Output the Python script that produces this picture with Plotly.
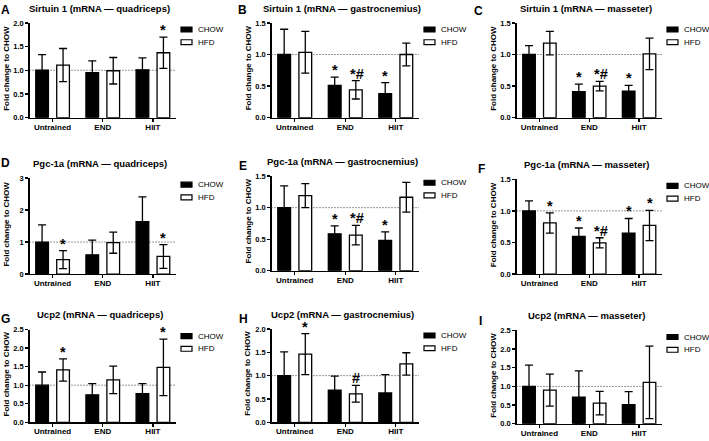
import plotly.graph_objects as go

W, H = 709, 441
FONT = "Liberation Sans, Arial, sans-serif"

categories = ["Untrained", "END", "HIIT"]
series_names = ["CHOW", "HFD"]
panel_letters = ["A", "B", "C", "D", "E", "F", "G", "H", "I"]
panel_titles = [
    "Sirtuin 1 (mRNA — quadriceps)", "Sirtuin 1 (mRNA — gastrocnemius)", "Sirtuin 1 (mRNA — masseter)",
    "Pgc-1a (mRNA — quadriceps)", "Pgc-1a (mRNA — gastrocnemius)", "Pgc-1a (mRNA — masseter)",
    "Ucp2 (mRNA — quadriceps)", "Ucp2 (mRNA — gastrocnemius)", "Ucp2 (mRNA — masseter)",
]
y_axis_title = "Fold change to CHOW"

# ---- data (mean, SD) per panel ----
A_chow = [1.00, 0.95, 1.01]; A_chow_err = [0.33, 0.25, 0.25]
A_hfd = [1.11, 0.99, 1.37];  A_hfd_err = [0.35, 0.28, 0.33]
A_chow_sig = ["", "", ""];   A_hfd_sig = ["", "", "*"]

B_chow = [1.00, 0.51, 0.38]; B_chow_err = [0.40, 0.13, 0.175]
B_hfd = [1.035, 0.44, 1.00]; B_hfd_err = [0.33, 0.145, 0.18]
B_chow_sig = ["", "*", "*"]; B_hfd_sig = ["", "*#", ""]

C_chow = [1.00, 0.41, 0.42]; C_chow_err = [0.14, 0.12, 0.09]
C_hfd = [1.18, 0.50, 1.01];  C_hfd_err = [0.185, 0.075, 0.25]
C_chow_sig = ["", "*", "*"]; C_hfd_sig = ["", "*#", ""]

D_chow = [1.00, 0.60, 1.64]; D_chow_err = [0.54, 0.46, 0.77]
D_hfd = [0.45, 0.98, 0.55];  D_hfd_err = [0.28, 0.33, 0.37]
D_chow_sig = ["", "", ""];   D_hfd_sig = ["*", "", "*"]

E_chow = [1.00, 0.585, 0.48]; E_chow_err = [0.345, 0.125, 0.135]
E_hfd = [1.19, 0.565, 1.165]; E_hfd_err = [0.19, 0.155, 0.235]
E_chow_sig = ["", "*", "*"];  E_hfd_sig = ["", "*#", ""]

F_chow = [1.00, 0.595, 0.65]; F_chow_err = [0.16, 0.135, 0.23]
F_hfd = [0.81, 0.495, 0.77];  F_hfd_err = [0.16, 0.08, 0.24]
F_chow_sig = ["", "*", "*"];  F_hfd_sig = ["*", "*#", "*"]

G_chow = [1.00, 0.74, 0.77]; G_chow_err = [0.355, 0.30, 0.27]
G_hfd = [1.41, 1.145, 1.48]; G_hfd_err = [0.30, 0.37, 0.76]
G_chow_sig = ["", "", ""];   G_hfd_sig = ["*", "", "*"]

H_chow = [1.00, 0.69, 0.63]; H_chow_err = [0.51, 0.30, 0.39]
H_hfd = [1.46, 0.61, 1.25];  H_hfd_err = [0.44, 0.18, 0.24]
H_chow_sig = ["", "", ""];   H_hfd_sig = ["*", "#", ""]

I_chow = [1.00, 0.71, 0.51]; I_chow_err = [0.57, 0.71, 0.35]
I_hfd = [0.90, 0.555, 1.11]; I_hfd_err = [0.43, 0.315, 0.97]
I_chow_sig = ["", "", ""];   I_hfd_sig = ["", "", ""]

y_max = [2.0, 1.5, 1.5, 3.0, 1.5, 1.5, 2.5, 2.0, 2.5]
y_dtick = [0.5, 0.5, 0.5, 1, 0.5, 0.5, 0.5, 0.5, 0.5]
y_fmt = [".1f", ".1f", ".1f", "d", ".1f", ".1f", ".1f", ".1f", ".1f"]

panels = [
    (A_chow, A_chow_err, A_hfd, A_hfd_err, A_chow_sig, A_hfd_sig),
    (B_chow, B_chow_err, B_hfd, B_hfd_err, B_chow_sig, B_hfd_sig),
    (C_chow, C_chow_err, C_hfd, C_hfd_err, C_chow_sig, C_hfd_sig),
    (D_chow, D_chow_err, D_hfd, D_hfd_err, D_chow_sig, D_hfd_sig),
    (E_chow, E_chow_err, E_hfd, E_hfd_err, E_chow_sig, E_hfd_sig),
    (F_chow, F_chow_err, F_hfd, F_hfd_err, F_chow_sig, F_hfd_sig),
    (G_chow, G_chow_err, G_hfd, G_hfd_err, G_chow_sig, G_hfd_sig),
    (H_chow, H_chow_err, H_hfd, H_hfd_err, H_chow_sig, H_hfd_sig),
    (I_chow, I_chow_err, I_hfd, I_hfd_err, I_chow_sig, I_hfd_sig),
]

# ---- layout geometry (pixels) ----
cols_px = [(29.5, 176.0), (271.5, 419.0), (516.5, 662.0)]
rows_px = [
    [(19.3, 116.0), (19.3, 116.0), (19.3, 116.0)],
    [(177.7, 275.7), (175.7, 272.3), (179.0, 275.7)],
    [(332.3, 427.0), (331.7, 427.0), (333.3, 428.5)],
]
letter_px = [(5, 6), (242.5, 6), (478.5, 7), (5, 162), (242.5, 165), (481.5, 168),
             (5, 322), (243.5, 322), (480.5, 323.5)]
ytitle_x_px = [6.5, 248, 493.5]


def px(xp):
    return xp / W


def py(yp):
    return 1 - yp / H


fig = go.Figure()
annotations = []
shapes = []
layout_axes = {}
slot_px = 10.5

for i, (chow, chow_err, hfd, hfd_err, chow_sig, hfd_sig) in enumerate(panels):
    r, c = divmod(i, 3)
    n = "" if i == 0 else str(i + 1)
    xref, yref = "x" + n, "y" + n
    x0, x1 = cols_px[c]
    ytop, ybot = rows_px[r][c]

    fig.add_trace(go.Bar(
        x=categories, y=chow, name=series_names[0], xaxis=xref, yaxis=yref,
        marker=dict(color="black", line=dict(color="black", width=1.3)),
        error_y=dict(type="data", array=chow_err, visible=True, color="black", thickness=1.3, width=4),
        showlegend=False,
    ))
    fig.add_trace(go.Bar(
        x=categories, y=hfd, name=series_names[1], xaxis=xref, yaxis=yref,
        marker=dict(color="white", line=dict(color="black", width=1.3)),
        error_y=dict(type="data", array=hfd_err, visible=True, color="black", thickness=1.3, width=4),
        showlegend=False,
    ))

    layout_axes["xaxis" + n] = dict(
        domain=[px(x0), px(x1)], anchor=yref, type="category", range=[-0.46, 2.46],
        showline=True, linecolor="black", linewidth=1.3, ticks="outside", ticklen=3,
        tickwidth=1.3, tickcolor="black", showgrid=False, zeroline=False,
        ticklabelstandoff=-2,
        tickfont=dict(family=FONT, size=8, color="black", weight="bold"), fixedrange=True,
    )
    layout_axes["yaxis" + n] = dict(
        domain=[py(ybot), py(ytop)], anchor=xref, range=[0, y_max[i]], dtick=y_dtick[i],
        tickformat=y_fmt[i], showline=True, linecolor="black", linewidth=1.3,
        ticks="outside", ticklen=3, tickwidth=1.3, tickcolor="black", showgrid=False,
        zeroline=False, tickfont=dict(family=FONT, size=7.5, color="black", weight="bold"),
        fixedrange=True,
    )

    # reference line at 1.0
    shapes.append(dict(type="line", xref=xref + " domain", yref=yref, x0=0, x1=1, y0=1, y1=1,
                       line=dict(color="#333", width=1, dash="1px,2px"), layer="below"))

    # significance markers
    for j in range(3):
        for vals, errs, sig, sh in ((chow, chow_err, chow_sig, -slot_px), (hfd, hfd_err, hfd_sig, slot_px)):
            if sig[j]:
                annotations.append(dict(
                    x=categories[j], y=vals[j] + errs[j], xref=xref, yref=yref,
                    text="<b>" + sig[j] + "</b>", showarrow=False, xshift=sh + (1 if len(sig[j]) > 1 else 0),
                    yanchor="bottom", yshift=-3,
                    font=dict(family=FONT, size=14.5, color="black"),
                ))

    # panel title
    annotations.append(dict(
        x=px((x0 + x1) / 2 - 3), y=py(ytop - 15), xref="paper", yref="paper",
        text="<b>" + panel_titles[i] + "</b>", showarrow=False, xanchor="center", yanchor="middle",
        font=dict(family=FONT, size=9.5, color="black"),
    ))
    # panel letter
    lx, ly = letter_px[i]
    annotations.append(dict(
        x=px(lx), y=py(ly), xref="paper", yref="paper", text="<b>" + panel_letters[i] + "</b>",
        showarrow=False, xanchor="center", yanchor="middle",
        font=dict(family=FONT, size=12, color="black"),
    ))
    # y-axis title
    annotations.append(dict(
        x=px(ytitle_x_px[c]), y=py((ytop + ybot) / 2 - 2), xref="paper", yref="paper",
        text="<b>" + y_axis_title + "</b>", showarrow=False, textangle=-90,
        xanchor="center", yanchor="middle", font=dict(family=FONT, size=8, color="black"),
    ))
    # legend (per panel)
    for k, (fillc, name) in enumerate((("black", series_names[0]), ("white", series_names[1]))):
        cy = ytop + 6.7 + 13 * k
        shapes.append(dict(type="rect", xref="paper", yref="paper",
                           x0=px(x1 + 5), x1=px(x1 + 16), y0=py(cy + 2.5), y1=py(cy - 2.5),
                           fillcolor=fillc, line=dict(color="black", width=1.2)))
        annotations.append(dict(
            x=px(x1 + 20), y=py(cy), xref="paper", yref="paper", text=name, showarrow=False,
            xanchor="left", yanchor="middle", font=dict(family=FONT, size=8, color="black"),
        ))

fig.update_layout(
    width=W, height=H, margin=dict(l=0, r=0, t=0, b=0),
    paper_bgcolor="white", plot_bgcolor="white",
    barmode="group", bargap=0.164, bargroupgap=0.395,
    showlegend=False, annotations=annotations, shapes=shapes,
    font=dict(family=FONT, color="black"),
    **layout_axes,
)

fig.write_html(
    "out.html",
    config={"displayModeBar": False, "staticPlot": True},
    post_script="document.body.style.margin='0';document.body.style.overflow='hidden';"
                "document.documentElement.style.overflow='hidden';",
)
